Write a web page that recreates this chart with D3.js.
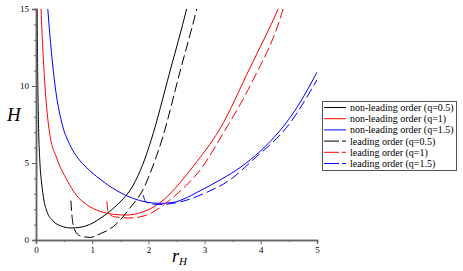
<!DOCTYPE html>
<html>
<head>
<meta charset="utf-8">
<script src="https://cdn.jsdelivr.net/npm/d3@7"></script>
<style>
  body { margin: 0; background: #fff; }
  svg { display: block; }
  .tick text { font-family: "Times New Roman", "Liberation Serif", serif; font-size: 9px; fill: #000; }
</style>
</head>
<body>
<svg id="chart" width="463" height="271"></svg>
<script>
// r_H, H pairs
var nonLeadingQ05 = [[0.02,15.5],[0.03,11],[0.045,7.5],[0.07,5],[0.1,3.7],[0.14,2.6],[0.2,1.8],[0.3,1.25],[0.45,0.9],[0.62,0.78],[0.78,0.82],[0.95,1.0],[1.14,1.4],[1.44,2.27],[1.73,3.57],[1.9,4.9],[2.05,6.5],[2.38,10.9],[2.68,15],[2.72,15.6]];
var nonLeadingQ1 = [[0.085,15.5],[0.09,15],[0.16,10],[0.24,7.0],[0.37,5.3],[0.55,3.9],[0.72,2.9],[0.9,2.3],[1.14,1.86],[1.4,1.66],[1.6,1.62],[1.9,1.82],[2.2,2.4],[2.56,3.7],[2.8,4.8],[3.27,7.2],[3.81,11.2],[4.31,15],[4.37,15.5]];
var nonLeadingQ15 = [[0.2,15.5],[0.21,15],[0.34,10],[0.46,7.6],[0.6,6.2],[0.75,5.3],[0.9,4.7],[1.14,3.95],[1.44,3.2],[1.73,2.7],[1.95,2.47],[2.2,2.38],[2.45,2.45],[2.62,2.65],[2.92,3.2],[3.3,3.95],[3.63,4.7],[4.0,5.8],[4.34,7.1],[4.66,8.7],[5.0,10.9]];
var leadingQ05 = [[0.62,2.55],[0.645,1.4],[0.69,0.65],[0.78,0.28],[0.96,0.17],[1.17,0.45],[1.32,0.72],[1.44,1.08],[1.67,2.07],[1.9,3.25],[2.12,5.2],[2.24,6.5],[2.56,10.9],[2.86,15],[2.9,15.6]];
var leadingQ1 = [[1.26,2.5],[1.28,1.9],[1.33,1.6],[1.44,1.48],[1.67,1.43],[1.97,1.62],[2.33,2.45],[2.68,3.57],[2.89,4.4],[3.33,6.93],[3.85,10.3],[4.38,14.8],[4.42,15.3]];
var leadingQ15 = [[1.91,2.9],[1.94,2.55],[2.0,2.4],[2.2,2.3],[2.56,2.47],[3.04,3.1],[3.45,3.9],[3.86,5.2],[4.52,7.6],[5.0,10.4]];

var legendLabels = ["non-leading order (q=0.5)", "non-leading order (q=1)", "non-leading order (q=1.5)",
                    "leading order (q=0.5)", "leading order (q=1)", "leading order (q=1.5)"];
var xTicks = [0, 1, 2, 3, 4, 5];
var xMinorTicks = [0.5, 1.5, 2.5, 3.5, 4.5];
var yTicks = [0, 5, 10, 15];
var yMinorTicks = [1, 2, 3, 4, 6, 7, 8, 9, 11, 12, 13, 14];

var serif = "'Times New Roman', 'Liberation Serif', serif";

var series = [
  { data: nonLeadingQ05, color: "#000", dashed: false },
  { data: nonLeadingQ1, color: "#ff0000", dashed: false },
  { data: nonLeadingQ15, color: "#0000ff", dashed: false },
  { data: leadingQ05, color: "#000", dashed: true },
  { data: leadingQ1, color: "#ff0000", dashed: true },
  { data: leadingQ15, color: "#0000ff", dashed: true }
];

var svg = d3.select("#chart");
var x = d3.scaleLinear().domain([0, 5]).range([36, 317]);
var y = d3.scaleLinear().domain([0, 15]).range([240, 9]);

svg.append("defs").append("clipPath").attr("id", "plotClip")
  .append("rect").attr("x", x(0)).attr("y", y(15)).attr("width", x(5) - x(0)).attr("height", y(0) - y(15));

var line = d3.line().curve(d3.curveMonotoneX)
  .x(function(d) { return x(d[0]); })
  .y(function(d) { return y(d[1]); });

var lineGroup = svg.append("g").attr("clip-path", "url(#plotClip)");
series.forEach(function(s) {
  lineGroup.append("path").attr("d", line(s.data)).attr("fill", "none")
    .attr("stroke", s.color).attr("stroke-width", 1)
    .attr("stroke-dasharray", s.dashed ? "10,4" : null);
});

// Axes
var axisColor = "#666";
var xAxis = d3.axisBottom(x).tickValues(xTicks).tickSize(4).tickPadding(3).tickFormat(d3.format("d"));
var xMinor = d3.axisBottom(x).tickValues(xMinorTicks).tickSize(2).tickFormat("");
var yAxis = d3.axisLeft(y).tickValues(yTicks).tickSize(4).tickPadding(3).tickFormat(d3.format("d"));
var yMinor = d3.axisLeft(y).tickValues(yMinorTicks).tickSize(2).tickFormat("");

[svg.append("g").attr("transform", "translate(0," + y(0) + ")").call(xAxis),
 svg.append("g").attr("transform", "translate(0," + y(0) + ")").call(xMinor),
 svg.append("g").attr("transform", "translate(" + x(0) + ",0)").call(yAxis),
 svg.append("g").attr("transform", "translate(" + x(0) + ",0)").call(yMinor)].forEach(function(g) {
  g.attr("font-family", serif);
  g.selectAll("path.domain").attr("stroke", axisColor).attr("stroke-width", 1.5);
  g.selectAll(".tick line").attr("stroke", axisColor);
});

// Axis labels
svg.append("text").attr("x", 7).attr("y", 121)
  .style("font-family", serif).style("font-style", "italic").style("font-size", "19px")
  .text("H");
var xl = svg.append("text").attr("x", 172).attr("y", 262)
  .style("font-family", serif).style("font-style", "italic").style("font-size", "18px");
xl.append("tspan").text("r");
xl.append("tspan").attr("dy", 3).style("font-size", "11px").text("H");

// Legend
var legend = svg.append("g");
legend.append("rect").attr("x", 322.5).attr("y", 101.5).attr("width", 134).attr("height", 69)
  .attr("fill", "#fff").attr("stroke", "#555").attr("stroke-width", 1);
legendLabels.forEach(function(label, i) {
  var cy = 107.5 + i * 11.2;
  legend.append("line").attr("x1", 324).attr("x2", 346).attr("y1", cy).attr("y2", cy)
    .attr("stroke", series[i].color).attr("stroke-width", 1)
    .attr("stroke-dasharray", series[i].dashed ? "15,3" : null);
  legend.append("text").attr("x", 350).attr("y", cy + 3.5)
    .style("font-family", serif).style("font-size", "10px")
    .text(label);
});
</script>
</body>
</html>
